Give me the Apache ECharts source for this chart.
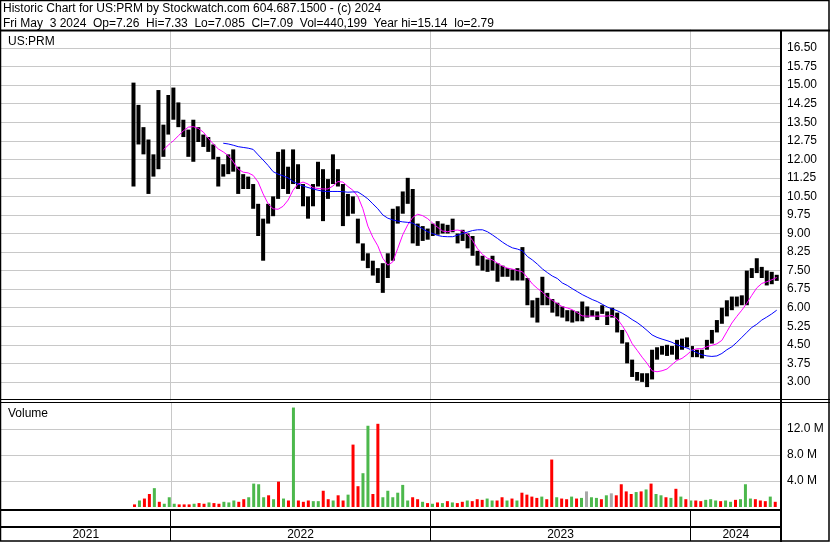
<!DOCTYPE html>
<html><head><meta charset="utf-8">
<script src="https://cdn.jsdelivr.net/npm/echarts@6/dist/echarts.min.js"></script>
<style>html,body{margin:0;padding:0;background:#fff}#c{width:830px;height:543px}</style>
</head><body><div id="c"></div>
<script>
// ---- data (weekly) ----
const weekStart = [2021, 10, 10];            // Wed of first trading week (Nov 10 2021)
const axisRange = ['2021-05-08', '2024-05-07'];
const yearBounds = ['2022-01-01', '2023-01-01', '2024-01-01'];
const yearLabels = ['2021', '2022', '2023', '2024'];
const headerLines = [
  'Historic Chart for US:PRM by Stockwatch.com 604.687.1500 - (c) 2024',
  'Fri May  3 2024  Op=7.26  Hi=7.33  Lo=7.085  Cl=7.09  Vol=440,199  Year hi=15.14  lo=2.79'
];
const hi = [15.1,14.2,13.3,12.8,12.2,14.8,13.4,14.6,14.9,14.3,
  13.6,13.2,13.6,13.3,13.0,12.9,12.6,12.1,11.8,12.2,
  12.4,11.7,11.4,11.3,11.0,10.2,9.6,10.2,10.5,12.3,
  12.4,11.7,12.4,11.8,11.0,10.5,11.0,11.9,11.6,11.2,
  12.2,11.6,11.0,10.6,10.5,9.6,8.6,8.2,7.9,7.6,
  7.8,8.2,10.0,10.1,10.7,11.25,10.8,9.4,9.3,9.2,
  9.4,9.5,9.4,9.35,9.6,9.0,9.15,9.0,8.9,8.3,
  8.1,7.95,8.1,7.8,7.7,7.6,7.55,7.6,8.45,7.2,
  6.3,6.4,7.25,6.6,6.35,6.2,6.05,5.9,5.9,5.85,
  6.25,6.05,5.9,5.85,6.1,5.85,6.0,5.8,5.1,4.6,
  3.9,3.4,3.35,3.35,4.3,4.4,4.45,4.5,4.45,4.7,
  4.75,4.8,4.45,4.3,4.3,4.7,5.1,5.5,6.0,6.3,
  6.45,6.45,6.5,7.5,7.6,8.0,7.65,7.5,7.45,7.33];
const lo = [10.9,12.6,12.2,10.6,11.3,11.6,12.1,13.0,13.6,13.3,
  12.9,12.1,11.9,12.7,12.5,12.3,12.0,10.9,11.3,11.4,
  11.5,10.6,10.8,10.8,10.0,8.9,7.9,9.4,9.7,10.4,
  10.8,10.6,11.0,10.8,10.1,9.6,10.1,10.9,9.5,10.4,
  11.0,10.9,9.3,9.7,9.8,8.6,7.9,7.6,7.3,7.0,
  6.6,7.2,7.9,9.4,9.8,10.2,8.6,8.5,8.7,8.75,
  8.9,8.95,9.0,9.0,9.05,8.6,8.7,8.4,8.1,7.7,
  7.5,7.45,7.5,7.05,7.25,7.25,7.1,7.1,7.1,6.1,
  5.6,5.4,6.1,6.1,5.8,5.65,5.6,5.45,5.4,5.45,
  5.45,5.6,5.65,5.5,5.75,5.3,5.6,5.0,4.55,3.75,
  3.2,3.05,3.0,2.79,3.1,3.9,4.1,4.05,4.1,3.9,
  4.3,4.4,4.0,4.0,3.95,4.3,4.55,5.0,5.35,5.65,
  5.9,6.05,6.1,6.1,7.2,7.4,7.2,6.9,6.95,7.085];
const maShort = [null,null,null,null,null,null,12.38,12.58,12.75,12.95,
  13.15,13.3,13.32,13.25,13.1,12.85,12.62,12.42,12.3,12.15,
  11.9,11.6,11.48,11.45,11.35,11.08,10.6,10.2,10.0,9.98,
  10.1,10.35,10.75,11.0,11.08,11.0,10.85,10.82,10.8,10.8,
  10.92,11.1,11.08,10.9,10.75,10.5,10.0,9.3,8.85,8.5,
  8.0,7.72,7.85,8.4,8.95,9.35,9.65,9.78,9.72,9.6,
  9.42,9.25,9.1,9.07,9.12,9.14,9.1,8.97,8.72,8.38,
  8.15,8.0,7.93,7.8,7.68,7.6,7.56,7.5,7.45,7.22,
  6.96,6.78,6.63,6.43,6.3,6.17,6.04,5.99,5.92,5.8,
  5.67,5.66,5.66,5.66,5.66,5.66,5.69,5.55,5.28,4.96,
  4.55,4.28,4.0,3.75,3.45,3.41,3.45,3.52,3.7,3.87,
  3.95,4.1,4.28,4.34,4.34,4.42,4.48,4.54,4.68,5.03,
  5.38,5.65,5.9,6.18,6.5,6.8,6.98,7.05,7.13,7.22];
const maLong = [null,null,null,null,null,null,null,null,null,null,
  null,null,null,null,null,null,null,null,12.65,12.62,
  12.57,12.51,12.48,12.45,12.4,12.18,11.97,11.75,11.5,11.4,
  11.33,11.25,11.1,11.0,10.92,10.86,10.8,10.75,10.71,10.7,
  10.7,10.7,10.69,10.67,10.68,10.68,10.55,10.4,10.2,10.0,
  9.75,9.62,9.55,9.5,9.47,9.45,9.42,9.3,9.19,9.07,
  9.0,8.92,8.88,8.87,8.87,8.93,9.0,9.06,9.12,9.15,
  9.15,9.07,8.94,8.8,8.65,8.52,8.42,8.37,8.3,8.07,
  7.93,7.76,7.57,7.42,7.28,7.18,7.0,6.9,6.77,6.65,
  6.53,6.43,6.33,6.25,6.14,6.03,5.95,5.88,5.78,5.66,
  5.52,5.4,5.25,5.08,4.9,4.8,4.73,4.67,4.6,4.5,
  4.43,4.37,4.28,4.18,4.1,4.05,4.03,4.05,4.15,4.3,
  4.42,4.6,4.8,5.0,5.2,5.33,5.5,5.62,5.75,5.9];
const volumeM = [0.4,1.0,1.3,2.0,2.9,0.8,0.5,1.5,0.5,0.4,
  0.4,0.4,0.5,0.6,0.5,0.7,0.6,0.5,0.8,0.7,
  1.0,0.8,1.2,1.5,3.6,3.5,1.5,1.8,1.2,3.9,
  1.3,1.0,15.3,1.0,0.8,1.0,0.9,0.9,2.5,1.2,
  1.0,1.8,1.0,1.9,9.6,3.2,5.2,12.5,2.0,12.8,
  1.5,2.5,1.5,2.2,3.4,1.0,1.5,1.2,0.8,0.6,
  0.5,0.7,0.6,0.9,0.7,0.6,0.8,1.0,0.9,1.2,
  1.1,1.3,1.0,1.0,1.5,1.0,1.3,1.0,2.2,1.9,
  1.6,1.4,1.6,1.2,7.3,1.5,1.3,1.2,1.6,1.3,
  1.4,2.4,1.5,1.4,1.2,1.8,2.1,1.8,3.5,2.4,
  2.0,2.3,2.4,2.7,3.6,2.0,1.8,1.5,1.4,2.8,
  1.6,1.2,1.0,1.0,0.9,1.1,1.2,1.0,0.9,1.0,
  0.8,1.1,1.2,3.5,1.3,1.2,1.0,0.9,1.6,0.8];
// 1 = up (green), 0 = down (red), 2 = unchanged (grey)
const volumeDir = [0,1,0,0,1,0,1,1,1,0, 0,0,1,0,0,1,0,0,1,1, 1,0,0,1,1,1,1,0,1,0,
  1,0,1,0,0,0,1,1,0,0, 1,0,0,1,0,0,1,1,0,0, 1,1,1,1,1,1,0,0,1,0,
  1,0,1,0,1,0,0,1,0,0, 0,1,1,0,0,1,0,1,0,0, 0,0,1,0,0,1,0,0,1,0,
  1,2,1,1,0,1,2,0,0,0, 0,1,0,1,0,1,1,0,1,0, 1,0,1,0,0,1,1,1,0,1,
  1,0,1,1,1,0,0,0,1,0];

// ---- build ----
const FONT = '"Liberation Sans", Arial, sans-serif';
const ts = s => { const p = s.split('-').map(Number); return new Date(p[0], p[1]-1, p[2]).getTime(); };
const dates = hi.map((_, i) => new Date(weekStart[0], weekStart[1], weekStart[2] + 7*i).getTime());
const tMin = ts(axisRange[0]), tMax = ts(axisRange[1]);
const bounds = yearBounds.map(ts);
const edges = [tMin].concat(bounds, [tMax]);
const dirColor = ['#ff0000', '#4cb84c', '#a8a8a8'];

const chart = echarts.init(document.getElementById('c'), null, {renderer: 'canvas'});
const gridCol = '#c8c8c8';
const yearLine = (color) => ({
  silent: true, symbol: ['none','none'], label: {show:false},
  lineStyle: {color: color, type: 'solid', width: 1}, emphasis: {disabled: true},
  data: bounds.map(b => ({xAxis: b}))
});

const option = {
  animation: false,
  textStyle: {fontFamily: FONT},
  grid: [
    {left: 1, right: 49, top: 29.45, height: 371},
    {left: 1, right: 49, top: 403, height: 104},
    {left: 1, right: 49, top: 510, height: 31}
  ],
  xAxis: [0,1,2].map(g => ({type: 'time', gridIndex: g, min: tMin, max: tMax, show: false})),
  yAxis: [
    {gridIndex: 0, type: 'value', position: 'right', min: 2.25, max: 17.25, interval: 0.75,
     axisLine: {show: false}, axisTick: {show: false},
     axisLabel: {formatter: v => v.toFixed(2), showMinLabel: false, showMaxLabel: false,
                 color: '#000', fontSize: 12, margin: 6, fontFamily: FONT},
     splitLine: {show: true, showMinLine: false, showMaxLine: false, lineStyle: {color: gridCol, width: 1}}},
    {gridIndex: 1, type: 'value', position: 'right', min: 0, max: 16e6, interval: 4e6,
     axisLine: {show: false}, axisTick: {show: false},
     axisLabel: {formatter: v => (v/1e6).toFixed(1) + ' M', showMinLabel: false, showMaxLabel: false,
                 color: '#000', fontSize: 12, margin: 6, fontFamily: FONT},
     splitLine: {show: true, showMinLine: false, showMaxLine: false, lineStyle: {color: gridCol, width: 1}}},
    {gridIndex: 2, type: 'value', min: 0, max: 1, show: false}
  ],
  series: [
    {type: 'line', xAxisIndex: 0, yAxisIndex: 0, data: [], z: 1, markLine: yearLine(gridCol)},
    {type: 'line', xAxisIndex: 1, yAxisIndex: 1, data: [], z: 1, markLine: yearLine(gridCol)},
    {type: 'line', xAxisIndex: 2, yAxisIndex: 2, data: [], z: 1, markLine: yearLine('#000'),
     markArea: {silent: true, itemStyle: {color: 'rgba(0,0,0,0)'},
       label: {show: true, position: 'insideBottom', distance: 0, color: '#000', fontSize: 12, fontFamily: FONT},
       data: yearLabels.map((y, k) => [{name: y, xAxis: edges[k]}, {xAxis: edges[k+1]}])}},
    {type: 'custom', xAxisIndex: 0, yAxisIndex: 0, z: 3,
     data: dates.map((d, i) => [d, hi[i], lo[i]]),
     encode: {x: 0, y: [1, 2]},
     renderItem: (params, api) => {
       const top = api.coord([api.value(0), api.value(1)]);
       const bot = api.coord([api.value(0), api.value(2)]);
       return {type: 'rect', shape: {x: top[0] - 2, y: top[1], width: 4, height: Math.max(1, bot[1] - top[1])},
               style: {fill: '#000'}};
     }},
    {type: 'line', xAxisIndex: 0, yAxisIndex: 0, z: 4, symbol: 'none', smooth: false,
     lineStyle: {color: '#ff00ff', width: 1}, data: dates.map((d, i) => [d, maShort[i]])},
    {type: 'line', xAxisIndex: 0, yAxisIndex: 0, z: 4, symbol: 'none', smooth: false,
     lineStyle: {color: '#0000ff', width: 1}, data: dates.map((d, i) => [d, maLong[i]])},
    {type: 'bar', xAxisIndex: 1, yAxisIndex: 1, z: 3, barWidth: 3,
     data: dates.map((d, i) => ({value: [d, volumeM[i] * 1e6], itemStyle: {color: dirColor[volumeDir[i]]}}))}
  ],
  graphic: [
    {type: 'rect', z: 100, silent: true, shape: {x: 0.5, y: 0.5, width: 828.5, height: 540.5},
     style: {fill: 'none', stroke: '#000', lineWidth: 1.5}},
    {type: 'line', z: 100, silent: true, shape: {x1: 0, y1: 30.5, x2: 830, y2: 30.5}, style: {stroke: '#000', lineWidth: 2}},
    {type: 'line', z: 100, silent: true, shape: {x1: 781, y1: 30, x2: 781, y2: 542}, style: {stroke: '#000', lineWidth: 2}},
    {type: 'line', z: 100, silent: true, shape: {x1: 0, y1: 399.5, x2: 830, y2: 399.5}, style: {stroke: '#000', lineWidth: 1}},
    {type: 'line', z: 100, silent: true, shape: {x1: 0, y1: 402.5, x2: 830, y2: 402.5}, style: {stroke: '#000', lineWidth: 1}},
    {type: 'line', z: 100, silent: true, shape: {x1: 0, y1: 510, x2: 781, y2: 510}, style: {stroke: '#000', lineWidth: 2}},
    {type: 'line', z: 100, silent: true, shape: {x1: 0, y1: 527, x2: 781, y2: 527}, style: {stroke: '#000', lineWidth: 2}},
    {type: 'text', z: 100, silent: true, x: 3, y: 9, style: {text: headerLines[0], font: '12px ' + FONT, fill: '#000', verticalAlign: 'middle'}},
    {type: 'text', z: 100, silent: true, x: 3, y: 24, style: {text: headerLines[1], font: '12px ' + FONT, fill: '#000', verticalAlign: 'middle'}},
    {type: 'text', z: 100, silent: true, x: 8, y: 42, style: {text: 'US:PRM', font: '12px ' + FONT, fill: '#000', verticalAlign: 'middle'}},
    {type: 'text', z: 100, silent: true, x: 8, y: 414, style: {text: 'Volume', font: '12px ' + FONT, fill: '#000', verticalAlign: 'middle'}}
  ]
};
chart.setOption(option);
</script></body></html>
